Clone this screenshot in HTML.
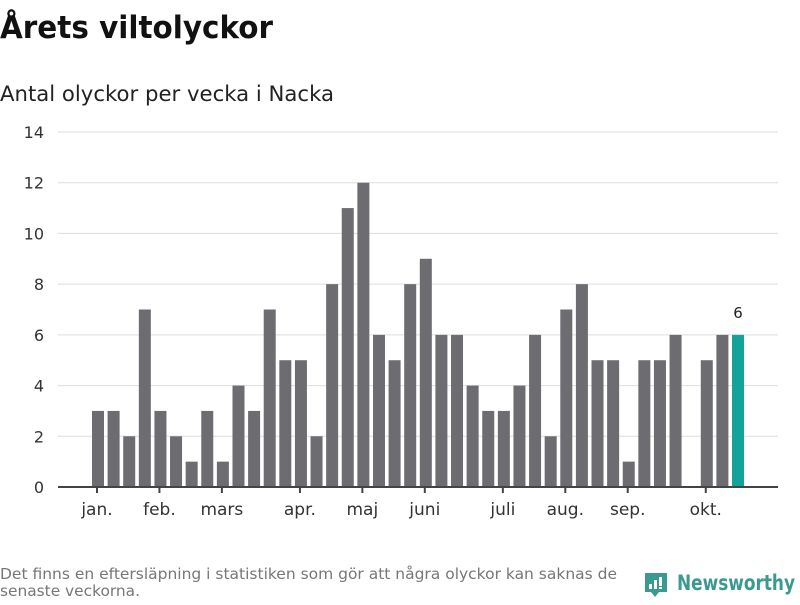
<!DOCTYPE html>
<html><head><meta charset="utf-8"><style>
body{margin:0;background:#fff;font-family:"Liberation Sans","DejaVu Sans",sans-serif;}
svg text{font-family:"DejaVu Sans","Liberation Sans",sans-serif;}
</style></head><body>
<svg id="chart" width="800" height="600" xmlns="http://www.w3.org/2000/svg">
<text x="0" y="38" font-size="31" font-weight="bold" fill="#111" textLength="273" lengthAdjust="spacingAndGlyphs">Årets viltolyckor</text>
<text x="0" y="101" font-size="21" fill="#222" textLength="334" lengthAdjust="spacingAndGlyphs">Antal olyckor per vecka i Nacka</text>
<g id="grid"></g><g id="bars"></g><g id="xaxis"></g>
<text x="0" y="579" font-size="15" fill="#777" textLength="617" lengthAdjust="spacingAndGlyphs">Det finns en eftersläpning i statistiken som gör att några olyckor kan saknas de</text>
<text x="0" y="596" font-size="15" fill="#777" textLength="140" lengthAdjust="spacingAndGlyphs">senaste veckorna.</text>
<g>
<path d="M645 573 h22 v19 h-8 l-4 5 l-4 -5 h-6 z" fill="#3a9a8f"/>
<rect x="649" y="584" width="3" height="5" fill="#fff"/><rect x="654" y="580" width="3" height="9" fill="#fff"/><rect x="659" y="577" width="3" height="9" fill="#fff"/><rect x="659" y="587" width="3" height="2" fill="#fff"/>
<text x="677" y="590" font-size="21" font-weight="bold" fill="#3a9a8f" textLength="118" lengthAdjust="spacingAndGlyphs">Newsworthy</text>
</g>
</svg>
<script>
const values=[3,3,2,7,3,2,1,3,1,4,3,7,5,5,2,8,11,12,6,5,8,9,6,6,4,3,3,4,6,2,7,8,5,5,1,5,5,6,0,5,6,6];
const yTicks=[0,2,4,6,8,10,12,14];
const months=["jan.","feb.","mars","apr.","maj","juni","juli","aug.","sep.","okt."];
const monthIdx=[0,4,8,13,17,21,26,30,34,39];
const NS="http://www.w3.org/2000/svg";
const x0=58,x1=778,y0=487,yTop=132,yMax=14;
const step=(738-98)/(values.length-1);
const xs=i=>98+i*step;
const ys=v=>y0-(v/yMax)*(y0-yTop);
function mk(t,a,p){const e=document.createElementNS(NS,t);for(const k in a)e.setAttribute(k,a[k]);p.appendChild(e);return e;}
const grid=document.getElementById('grid'),bars=document.getElementById('bars'),xa=document.getElementById('xaxis');
yTicks.forEach(v=>{
 if(v>0){const l=mk('line',{x1:x0,x2:x1,y1:ys(v),y2:ys(v),stroke:'#ddd','stroke-width':1},grid);
 
 }
 const t=mk('text',{x:44,y:ys(v)+6,'font-size':16,fill:'#333','text-anchor':'end'},grid);t.textContent=v;
 
 
});
values.forEach((v,i)=>{
 const last=i===values.length-1;
 const r=mk('rect',{x:xs(i)-6,y:ys(v),width:12,height:y0-ys(v),fill:last?'#13a39a':'#6d6c71'},bars);
 
 
 if(last){const t=mk('text',{x:xs(i),y:ys(v)-17,'font-size':15,fill:'#222','text-anchor':'middle'},bars);t.textContent=v;
 
 }
});
const ax=mk('line',{x1:x0,x2:x1,y1:y0,y2:y0,stroke:'#444','stroke-width':2},xa);


months.forEach((m,k)=>{
 const x=xs(monthIdx[k])-1;
 const tk=mk('line',{x1:x,x2:x,y1:y0,y2:y0+6,stroke:'#444','stroke-width':2},xa);
 
 
 const t=mk('text',{x:x,y:515,'font-size':17,fill:'#333','text-anchor':'middle'},xa);t.textContent=m;
 
 
});
</script>
</body></html>
